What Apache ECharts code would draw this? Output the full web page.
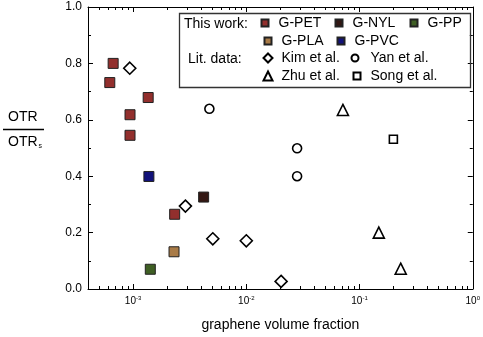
<!DOCTYPE html>
<html>
<head>
<meta charset="utf-8">
<script src="https://cdn.jsdelivr.net/npm/echarts@6/dist/echarts.min.js"></script>
<style>html,body{margin:0;padding:0;background:#fff;}#c{width:483px;height:337px;}</style>
</head>
<body>
<div id="c"></div>
<script>
// ---- data ----
const petX = [6.67e-4, 6.23e-4, 1.36e-3, 9.4e-4, 9.4e-4, 2.33e-3];
const petY = [0.800, 0.732, 0.679, 0.618, 0.545, 0.265];
const nylX = [4.2e-3];
const nylY = [0.326];
const ppX = [1.42e-3];
const ppY = [0.070];
const plaX = [2.3e-3];
const plaY = [0.132];
const pvcX = [1.38e-3];
const pvcY = [0.399];
const kimX = [9.35e-4, 2.9e-3, 5.06e-3, 1.0e-2, 2.03e-2];
const kimY = [0.783, 0.294, 0.178, 0.171, 0.027];
const yanX = [4.72e-3, 2.81e-2, 2.81e-2];
const yanY = [0.639, 0.499, 0.400];
const zhuX = [7.13e-2, 0.148, 0.231];
const zhuY = [0.635, 0.200, 0.072];
const songX = [0.199];
const songY = [0.531];
const xMajorTicks = [1e-3, 1e-2, 1e-1, 1];
const xMinorTicks = [4e-4,5e-4,6e-4,7e-4,8e-4,9e-4,
  2e-3,3e-3,4e-3,5e-3,6e-3,7e-3,8e-3,9e-3,
  2e-2,3e-2,4e-2,5e-2,6e-2,7e-2,8e-2,9e-2,
  0.2,0.3,0.4,0.5,0.6,0.7,0.8,0.9];

const FONT = 'Liberation Sans, Arial, sans-serif';
const zip = (xs, ys) => xs.map((x, i) => [x, ys[i]]);

const chart = echarts.init(document.getElementById('c'), null, {renderer: 'canvas'});

function filledSeries(name, xs, ys, color) {
  return {
    name, type: 'scatter', xAxisIndex: 0, yAxisIndex: 0,
    symbol: 'rect', symbolSize: 10,
    itemStyle: {color, borderColor: '#222', borderWidth: 1, opacity: 1},
    data: zip(xs, ys), z: 3
  };
}
function openSeries(name, xs, ys, symbol, size) {
  return {
    name, type: 'scatter', xAxisIndex: 0, yAxisIndex: 0,
    symbol, symbolSize: size,
    itemStyle: {color: '#fff', borderColor: '#000', borderWidth: 1.6, opacity: 1},
    data: zip(xs, ys), z: 3
  };
}

const baseX = {
  type: 'log', logBase: 10, min: 4e-4, max: 1, gridIndex: 0,
  splitLine: {show: false}, minorSplitLine: {show: false}
};
const axLine = {show: true, lineStyle: {color: '#000', width: 1}};

function legendItem(name, iconCenterX, rowCenterY, size, gapPad) {
  return {
    data: [name], left: iconCenterX - size / 2, top: rowCenterY - 8, padding: 0, itemGap: 0,
    itemWidth: size, itemHeight: size, orient: 'horizontal',
    textStyle: {fontSize: 14, fontFamily: FONT, color: '#000', padding: [0, 0, 0, gapPad]},
    selectedMode: false
  };
}

const option = {
  animation: false,
  backgroundColor: '#fff',
  grid: {left: 88, right: 8, top: 7, bottom: 44, containLabel: false},
  xAxis: [
    Object.assign({}, baseX, {
      position: 'bottom',
      axisLine: axLine,
      axisTick: {show: true, inside: true, length: 5, customValues: xMajorTicks, lineStyle: {color: '#000'}},
      axisLabel: {
        show: true, customValues: xMajorTicks, margin: 6,
        fontSize: 10, lineHeight: 12, fontFamily: FONT, color: '#000',
        formatter: v => '10{s|' + Math.round(Math.log10(v)) + '}',
        rich: {s: {fontSize: 6, verticalAlign: 'top', lineHeight: 8, fontFamily: FONT, color: '#000'}}
      },
      name: 'graphene volume fraction', nameLocation: 'middle', nameGap: 29,
      nameTextStyle: {fontSize: 14, fontFamily: FONT, color: '#000'}
    }),
    Object.assign({}, baseX, {
      position: 'bottom',
      axisLine: {show: false},
      axisTick: {show: true, inside: true, length: 3, customValues: xMinorTicks, lineStyle: {color: '#000'}},
      axisLabel: {show: false}
    }),
    Object.assign({}, baseX, {
      position: 'top',
      axisLine: axLine,
      axisTick: {show: true, inside: true, length: 5, customValues: xMajorTicks, lineStyle: {color: '#000'}},
      axisLabel: {show: false}
    }),
    Object.assign({}, baseX, {
      position: 'top',
      axisLine: {show: false},
      axisTick: {show: true, inside: true, length: 3, customValues: xMinorTicks, lineStyle: {color: '#000'}},
      axisLabel: {show: false}
    })
  ],
  yAxis: [
    {
      type: 'value', min: 0, max: 1, interval: 0.2, position: 'left',
      axisLine: axLine,
      axisTick: {show: true, inside: true, length: 5, lineStyle: {color: '#000'}},
      minorTick: {show: true, splitNumber: 2, length: 3, lineStyle: {color: '#000'}},
      splitLine: {show: false},
      axisLabel: {fontSize: 12, fontFamily: FONT, color: '#000', margin: 6, formatter: v => v.toFixed(1)}
    },
    {
      type: 'value', min: 0, max: 1, interval: 0.2, position: 'right',
      axisLine: axLine,
      axisTick: {show: true, inside: true, length: 5, lineStyle: {color: '#000'}},
      minorTick: {show: true, splitNumber: 2, length: 3, lineStyle: {color: '#000'}},
      splitLine: {show: false},
      axisLabel: {show: false}
    }
  ],
  legend: [
    legendItem('G-PET', 264, 24, 7, 5),
    legendItem('G-NYL', 338, 24, 7, 5),
    legendItem('G-PP', 413, 24, 7, 5),
    legendItem('G-PLA', 267, 42, 7, 5),
    legendItem('G-PVC', 340, 42, 7, 5),
    legendItem('Kim et al.', 267, 59, 9, 4),
    legendItem('Yan et al.', 354, 59, 7, 7),
    legendItem('Zhu et al.', 267, 77, 9, 4),
    legendItem('Song et al.', 356, 77, 7, 5)
  ],
  graphic: [
    {type: 'rect', shape: {x: 179.5, y: 13.5, width: 291, height: 74},
     style: {fill: 'transparent', stroke: '#333', lineWidth: 1.3}, z: 10},
    {type: 'text', left: 184, top: 17, style: {text: 'This work:', fontSize: 14, fontFamily: FONT, fill: '#000'}},
    {type: 'text', left: 188, top: 52, style: {text: 'Lit. data:', fontSize: 14, fontFamily: FONT, fill: '#000'}},
    {type: 'text', left: 8, top: 110, style: {text: 'OTR', fontSize: 14, fontFamily: FONT, fill: '#000'}},
    {type: 'line', shape: {x1: 3, y1: 129.5, x2: 44, y2: 129.5}, style: {stroke: '#000', lineWidth: 1.5}},
    {type: 'text', left: 8, top: 135, style: {
      text: 'OTR{s|s}', fontSize: 14, fontFamily: FONT, fill: '#000',
      rich: {s: {fontSize: 7, fontFamily: FONT, fill: '#000', verticalAlign: 'bottom', padding: [8, 0, 0, 1]}}
    }}
  ],
  series: [
    filledSeries('G-PET', petX, petY, '#922f2d'),
    filledSeries('G-NYL', nylX, nylY, '#331713'),
    filledSeries('G-PP', ppX, ppY, '#3f5f24'),
    filledSeries('G-PLA', plaX, plaY, '#a97b47'),
    filledSeries('G-PVC', pvcX, pvcY, '#12127a'),
    openSeries('Kim et al.', kimX, kimY, 'diamond', 12),
    openSeries('Yan et al.', yanX, yanY, 'circle', 9),
    openSeries('Zhu et al.', zhuX, zhuY, 'triangle', 11),
    openSeries('Song et al.', songX, songY, 'rect', 8)
  ]
};
chart.setOption(option);
</script>
</body>
</html>
